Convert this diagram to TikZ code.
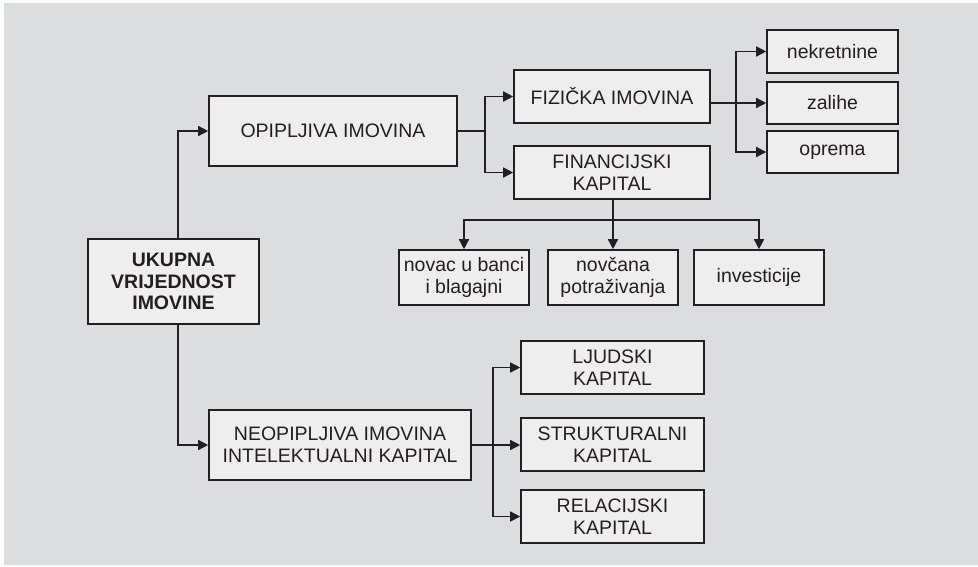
\documentclass[tikz,border=0pt]{standalone}
\usepackage{fontspec}
\setmainfont{Liberation Sans}
\usepackage{tikz}
\usetikzlibrary{arrows.meta,positioning,calc}
\definecolor{bggray}{RGB}{220,221,223}
\definecolor{boxgray}{RGB}{238,238,238}
\definecolor{ink}{RGB}{35,31,32}

\begin{document}
\begin{tikzpicture}[x=1pt, y=-1pt,
    box/.style={draw=ink, fill=boxgray, line width=1.6pt, inner sep=0pt, align=center,
                text=ink, font=\fontsize{19.5}{21.5}\selectfont},
    arr/.style={draw=ink, line width=1.5pt, -{Triangle[length=10pt,width=10pt]}},
    ln/.style={draw=ink, line width=1.5pt}]
    % background
    \useasboundingbox (0,0) rectangle (978,566);
    \fill[bggray] (4,3) rectangle (978,565);

    % root
    \node[box, minimum width=171pt, minimum height=85pt, font=\fontsize{19.5}{21.5}\selectfont\bfseries]
        (ukupno) at (173.5,281.5) {UKUPNA\\VRIJEDNOST\\IMOVINE};

    % tangible / intangible
    \node[box, minimum width=248pt, minimum height=70pt] (opip) at (333,131) {OPIPLJIVA IMOVINA};
    \node[box, minimum width=262pt, minimum height=70pt] (neop) at (340,445) {NEOPIPLJIVA IMOVINA\\INTELEKTUALNI KAPITAL};

    % tangible branch
    \node[box, minimum width=196pt, minimum height=53pt] (fiz) at (612,96.5) {FIZIČKA IMOVINA};
    \node[box, minimum width=196pt, minimum height=53pt] (fin) at (612,172.5) {FINANCIJSKI\\KAPITAL};

    \node[box, minimum width=131pt, minimum height=43pt] (nekr) at (832.5,51.5) {nekretnine};
    \node[box, minimum width=131pt, minimum height=42pt] (zal) at (832.5,103) {zalihe};
    \node[box, minimum width=131pt, minimum height=42pt] (opr) at (832.5,152) {oprema};

    \node[box, minimum width=130pt, minimum height=55pt] (novac) at (464,277.5) {novac u banci\\i blagajni};
    \node[box, minimum width=130pt, minimum height=55pt] (potr) at (613,277.5) {novčana\\potraživanja};
    \node[box, minimum width=130pt, minimum height=55pt] (inv) at (759,277.5) {investicije};

    % intangible branch
    \node[box, minimum width=183pt, minimum height=53pt] (ljud) at (612.5,367.5) {LJUDSKI\\KAPITAL};
    \node[box, minimum width=183pt, minimum height=53pt] (strk) at (612.5,444.5) {STRUKTURALNI\\KAPITAL};
    \node[box, minimum width=183pt, minimum height=53pt] (rel) at (612.5,516.5) {RELACIJSKI\\KAPITAL};

    % junction points
    \coordinate (j1) at (485,131);
    \coordinate (j2) at (736,103);
    \coordinate (j3) at (613,220);
    \coordinate (j4) at (493,445);

    % connectors
    \draw[arr] ([xshift=4.5pt]ukupno.north) |- (opip.west);
    \draw[arr] ([xshift=4.5pt]ukupno.south) |- (neop.west);

    \draw[ln] (opip.east) -- (j1);
    \draw[arr] (j1) |- (fiz.west);
    \draw[arr] (j1) |- (fin.west);

    \draw[arr] (fiz.east |- zal) -- (zal.west);
    \draw[arr] (j2) |- (nekr.west);
    \draw[arr] (j2) |- (opr.west);

    \draw[ln] (fin.south -| j3) -- (j3);
    \draw[arr] (j3) -| (novac.north);
    \draw[arr] (j3) -- (potr.north);
    \draw[arr] (j3) -| (inv.north);

    \draw[ln] (neop.east) -- (j4);
    \draw[arr] (j4) |- (ljud.west);
    \draw[arr] (j4) -- (strk.west |- j4);
    \draw[arr] (j4) |- (rel.west);
\end{tikzpicture}
\end{document}
